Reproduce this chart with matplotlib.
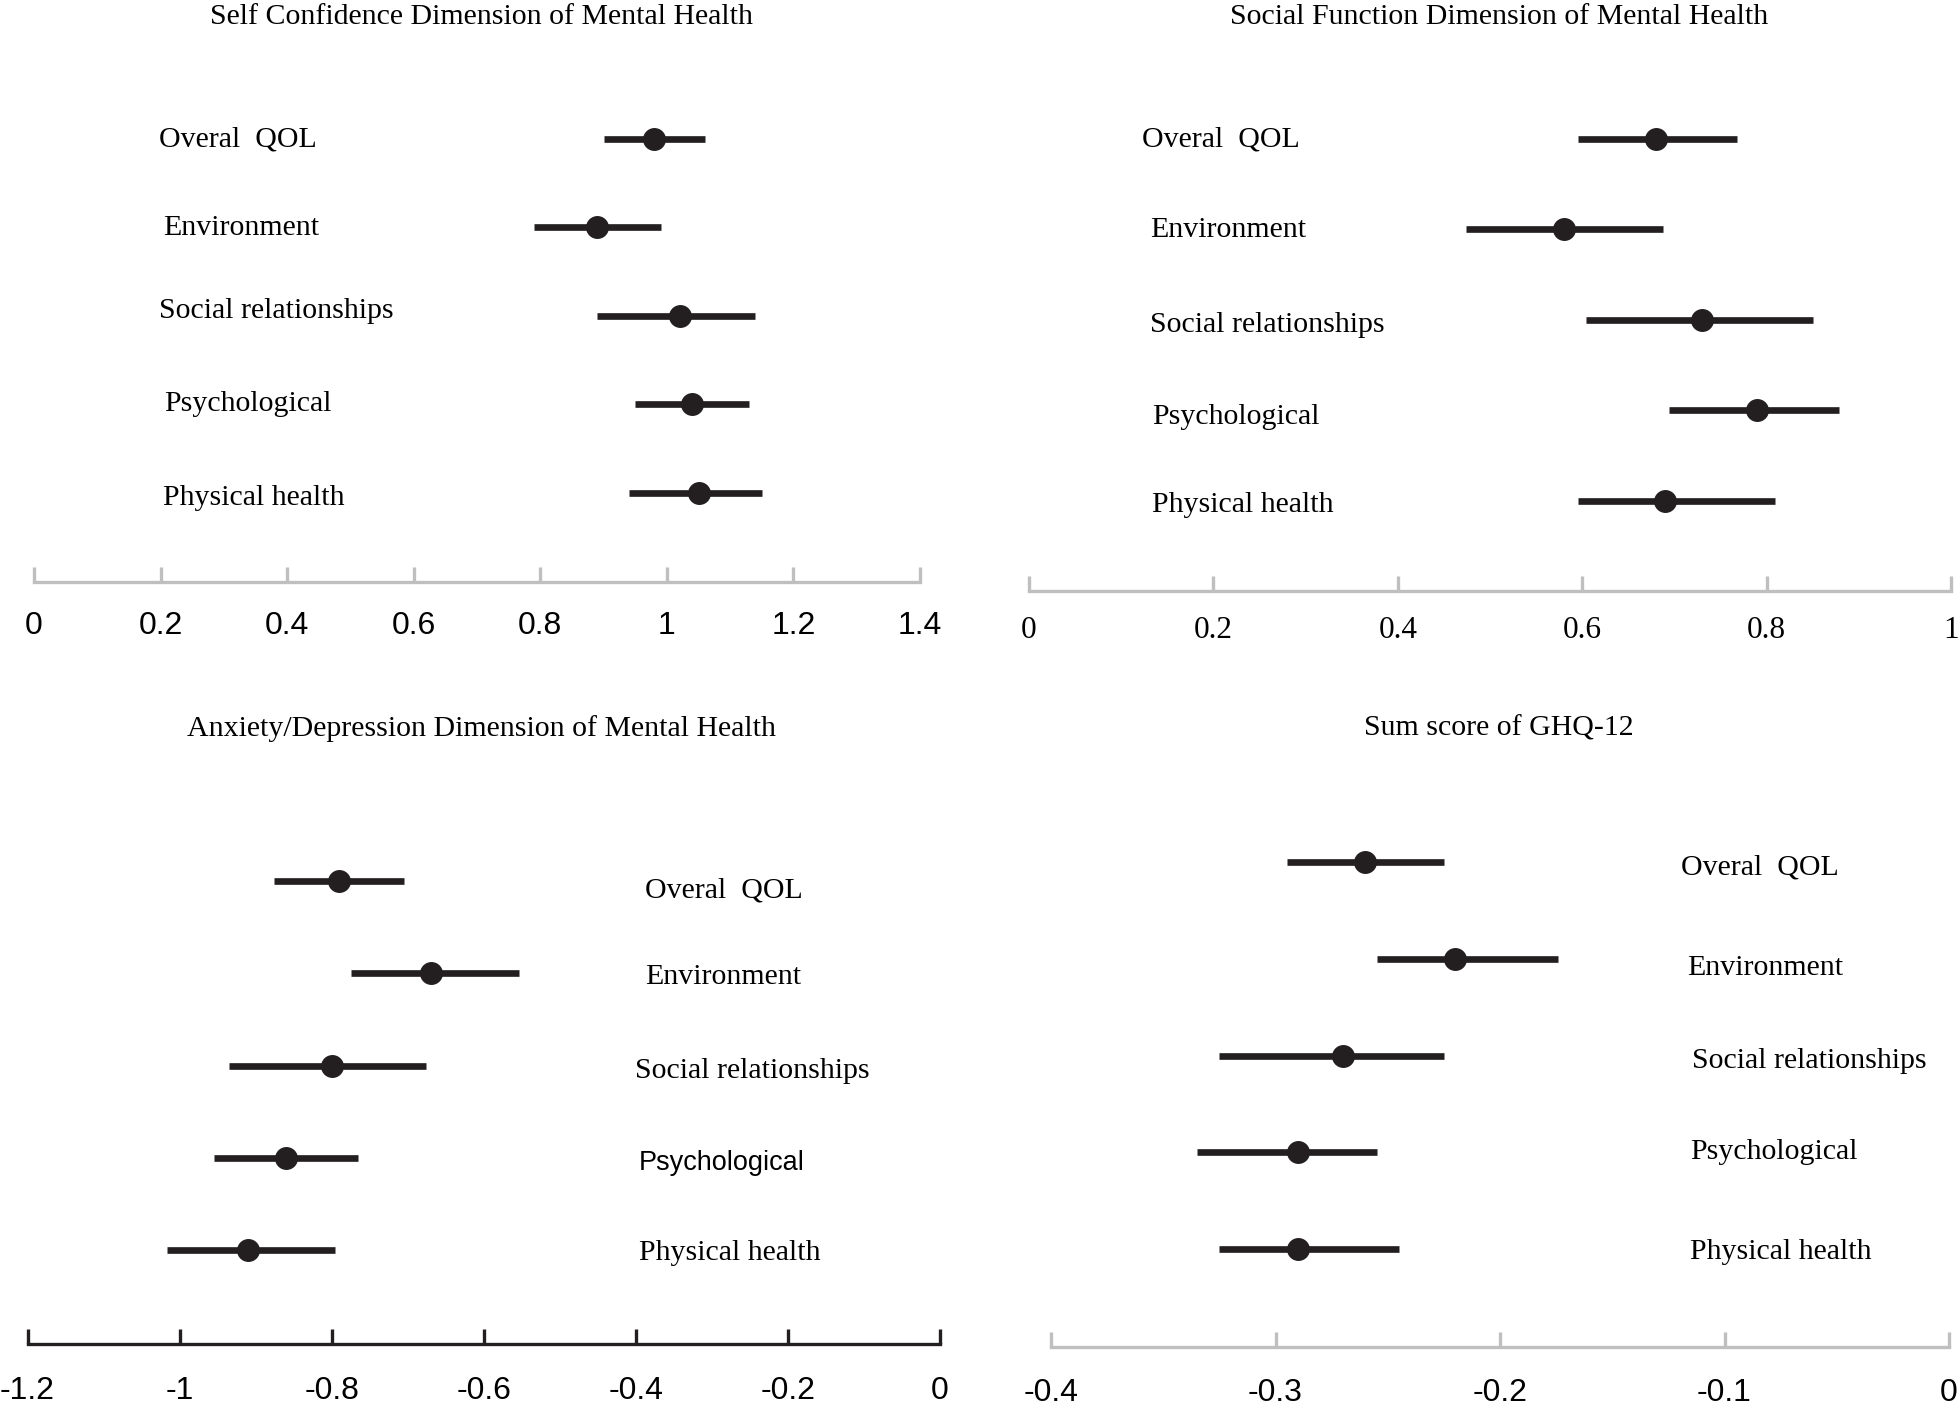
import matplotlib.pyplot as plt
from matplotlib.transforms import blended_transform_factory

W, H = 1960, 1408

domains = ["Overal  QOL", "Environment", "Social relationships", "Psychological", "Physical health"]

# self confidence dimension
sc_est = [0.98, 0.89, 1.02, 1.04, 1.05]
sc_lo = [0.90, 0.79, 0.89, 0.95, 0.94]
sc_hi = [1.06, 0.99, 1.14, 1.13, 1.15]

# social function dimension
sf_est = [0.68, 0.58, 0.73, 0.79, 0.69]
sf_lo = [0.595, 0.474, 0.604, 0.694, 0.595]
sf_hi = [0.768, 0.688, 0.850, 0.878, 0.809]

# anxiety / depression dimension
ad_est = [-0.79, -0.67, -0.80, -0.86, -0.91]
ad_lo = [-0.876, -0.774, -0.935, -0.955, -1.016]
ad_hi = [-0.705, -0.554, -0.676, -0.766, -0.796]

# GHQ-12 sum score
gh_est = [-0.26, -0.22, -0.27, -0.29, -0.29]
gh_lo = [-0.295, -0.255, -0.325, -0.335, -0.325]
gh_hi = [-0.225, -0.174, -0.225, -0.255, -0.245]

ink = "#231f20"
grey = "#bfbfbf"
serif = ["Liberation Serif", "DejaVu Serif"]
sans = ["Liberation Sans", "DejaVu Sans"]

fig = plt.figure(figsize=(W / 100, H / 100), dpi=100)


def panel(title, est, lo, hi, xlim, ticks, ticklabels, box, rows, title_xy, label_x,
          label_shift, spine_col, tick_font, tick_size, tick_pad, label_fonts):
    left, right, bottom, top = box
    ax = fig.add_axes([left / W, 1 - bottom / H, (right - left) / W, (bottom - top) / H])
    # map the five rows onto the pixel positions seen in the picture
    r0, r4 = rows
    per = (r4 - r0) / 4
    ax.set_ylim(4 + (bottom - r4) / per, -(r0 - top) / per)
    ax.set_xlim(*xlim)

    for i in range(len(est)):
        ax.plot([lo[i], hi[i]], [i, i], color=ink, lw=4.8, solid_capstyle="butt", zorder=2)
    ax.plot(est, range(len(est)), "o", color=ink, ms=15.5, zorder=3)

    for s in ["top", "left", "right"]:
        ax.spines[s].set_visible(False)
    ax.spines["bottom"].set_color(spine_col)
    ax.spines["bottom"].set_linewidth(2.4)
    ax.set_yticks([])
    ax.set_xticks(ticks)
    ax.set_xticklabels(ticklabels, family=tick_font, fontsize=tick_size)
    ax.tick_params(axis="x", direction="in", length=11, width=2.4, color=spine_col,
                   pad=tick_pad, labelcolor="black")
    ax.patch.set_visible(False)

    # row labels sit a little off the rows, shifts are in pixels
    trans = blended_transform_factory(fig.transFigure, ax.transData)
    for i, name in enumerate(domains):
        fam, size = label_fonts[i]
        dx, dy = label_shift[i]
        ax.text((label_x + dx) / W, i + dy / per, name, transform=trans, family=fam,
                fontsize=size, va="center", ha="left", color="black")

    fig.text(title_xy[0] / W, 1 - title_xy[1] / H, title, family=serif, fontsize=21.5,
             ha="center", va="center")
    return ax


serif_labels = [(serif, 21.5)] * 5
mixed_labels = [(serif, 21.5), (serif, 21.5), (serif, 21.5), (sans, 19.5), (serif, 21.5)]

panel("Self Confidence Dimension of Mental Health", sc_est, sc_lo, sc_hi,
      (0, 1.4), [0, 0.2, 0.4, 0.6, 0.8, 1.0, 1.2, 1.4],
      ["0", "0.2", "0.4", "0.6", "0.8", "1", "1.2", "1.4"],
      (34, 920, 582, 50), (139, 493), (481, 17), 160,
      [(-1, 1), (3, 1), (-1, -5), (4, 0), (3, 5)],
      grey, sans, 23, 21, serif_labels)

panel("Social Function Dimension of Mental Health", sf_est, sf_lo, sf_hi,
      (0, 1.0), [0, 0.2, 0.4, 0.6, 0.8, 1.0],
      ["0", "0.2", "0.4", "0.6", "0.8", "1"],
      (1029, 1951, 591, 50), (139, 501), (1499, 17), 1145,
      [(-3, 1), (5, 1), (5, 5), (7, 7), (7, 4)],
      grey, serif, 22.5, 18, serif_labels)

panel("Anxiety/Depression Dimension of Mental Health", ad_est, ad_lo, ad_hi,
      (-1.2, 0), [-1.2, -1.0, -0.8, -0.6, -0.4, -0.2, 0],
      ["-1.2", "-1", "-0.8", "-0.6", "-0.4", "-0.2", "0"],
      (27.5, 940, 1344, 760), (881, 1250), (481, 729), 642,
      [(3, 9), (3, 4), (-7, 6), (-3, 5), (-3, 3)],
      ink, sans, 23, 23, mixed_labels)

panel("Sum score of GHQ-12", gh_est, gh_lo, gh_hi,
      (-0.4, 0), [-0.4, -0.3, -0.2, -0.1, 0],
      ["-0.4", "-0.3", "-0.2", "-0.1", "0"],
      (1051, 1949, 1347, 760), (862, 1249), (1499, 729), 1688,
      [(-7, 6), (-1, 9), (4, 6), (2, 0), (2, 3)],
      grey, sans, 23, 22, serif_labels)

fig.savefig("out.png", dpi=100)
